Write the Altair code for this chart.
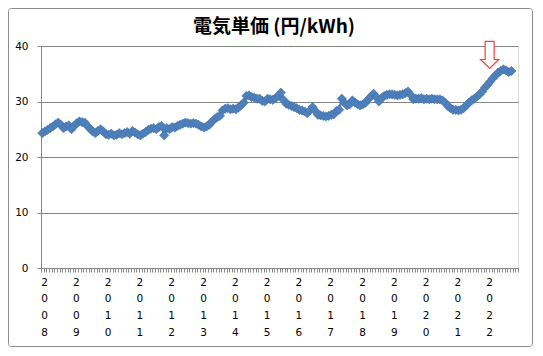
import altair as alt
import pandas as pd

# Monthly electricity unit price (yen/kWh), Jan 2008 onward
y2008 = [24.3, 24.6, 24.9, 25.2, 25.5, 25.9, 26.2, 25.8, 25.2, 25.5, 25.7, 25.0]
y2009 = [25.6, 26.1, 26.4, 26.3, 26.2, 25.6, 25.1, 24.6, 24.3, 24.7, 25.0, 24.6]
y2010 = [24.1, 24.0, 24.2, 23.9, 24.0, 24.3, 24.1, 24.3, 24.5, 24.2, 24.7, 24.4]
y2011 = [24.1, 23.9, 24.2, 24.5, 24.9, 25.1, 25.2, 25.0, 25.4, 25.6, 23.9, 25.2]
y2012 = [25.0, 25.4, 25.3, 25.6, 25.8, 26.0, 26.2, 26.1, 26.0, 26.1, 26.0, 25.8]
y2013 = [25.5, 25.3, 25.5, 25.8, 26.4, 26.8, 27.2, 27.4, 28.4, 28.7, 28.8, 28.6]
y2014 = [28.7, 28.6, 28.9, 29.3, 29.8, 31.0, 31.1, 30.8, 30.7, 30.5, 30.5, 30.1]
y2015 = [30.0, 30.5, 30.4, 30.3, 30.6, 31.0, 31.6, 30.3, 29.6, 29.4, 29.2, 29.0]
y2016 = [28.8, 28.5, 28.4, 28.2, 27.9, 28.4, 29.0, 28.3, 27.6, 27.5, 27.4, 27.3]
y2017 = [27.4, 27.6, 27.7, 28.3, 28.5, 30.5, 29.8, 29.3, 29.5, 30.2, 29.8, 29.5]
y2018 = [29.3, 29.5, 29.8, 30.4, 30.9, 31.4, 30.8, 30.0, 30.6, 31.0, 31.2, 31.3]
y2019 = [31.3, 31.2, 31.1, 31.2, 31.3, 31.5, 31.8, 31.2, 30.4, 30.5, 30.5, 30.6]
y2020 = [30.4, 30.5, 30.4, 30.5, 30.4, 30.4, 30.4, 30.2, 29.8, 29.2, 28.8, 28.5]
y2021 = [28.5, 28.4, 28.5, 28.8, 29.3, 29.8, 30.2, 30.5, 30.9, 31.3, 31.8, 32.5]
y2022 = [33.0, 33.6, 34.2, 34.7, 35.2, 35.5, 35.8, 35.6, 35.3, 35.5]

years = list(range(2008, 2023))
y_ticks = [0, 5, 10, 15, 20, 25, 30, 35, 40]
title_text = "電気単価 (円/kWh)"

# annotation arrow (month index, value)
arrow_month = [169.3]
arrow_value = [38.4]

series = (y2008 + y2009 + y2010 + y2011 + y2012 + y2013 + y2014 + y2015 +
          y2016 + y2017 + y2018 + y2019 + y2020 + y2021 + y2022)
n_cat = 12 * len(years)

df = pd.DataFrame({"m": [i + 0.5 for i in range(len(series))], "v": series})
df_arrow = pd.DataFrame({"m": arrow_month, "v": arrow_value})

blue = "#4F81BD"
grid = "#868686"

x_scale = alt.Scale(domain=[0, n_cat], nice=False, zero=False)
y_scale = alt.Scale(domain=[0, 40], nice=False)

x_axis = alt.Axis(
    values=list(range(0, n_cat + 1)),
    tickCount=n_cat + 1,
    title=None,
    grid=False,
    tickSize=4,
    tickColor=grid,
    domainColor=grid,
    labelExpr=f"datum.value % 12 == 0 && datum.value < {n_cat} ? split(toString(2008 + datum.value / 12), '') : ''",
    labelOverlap=False,
    labelBound=False,
    labelFlush=False,
    labelAlign="center",
    labelBaseline="top",
    labelOffset=3,
    labelPadding=5,
    labelLineHeight=16.7,
    labelFont="DejaVu Sans",
    labelFontSize=10.5,
    labelColor="black",
)
y_axis = alt.Axis(
    values=y_ticks,
    title=None,
    grid=True,
    gridColor=grid,
    gridWidth=1,
    tickSize=4,
    tickColor=grid,
    domainColor=grid,
    labelPadding=9,
    labelFont="DejaVu Sans",
    labelFontSize=10.5,
    labelColor="black",
)

base = alt.Chart(df)

line = base.mark_line(
    color=blue,
    strokeWidth=2.5,
    point=alt.OverlayMarkDef(shape="diamond", size=85, filled=True,
                             fill=blue, stroke="#3F6FA8", strokeWidth=0.6),
).encode(
    x=alt.X("m:Q", scale=x_scale, axis=x_axis),
    y=alt.Y("v:Q", scale=y_scale, axis=y_axis),
)

arrow_path = "M -0.33 -1 L 0.33 -1 L 0.33 0.34 L 0.667 0.34 L 0 1 L -0.667 0.34 L -0.33 0.34 Z"
arrow = alt.Chart(df_arrow).mark_point(
    shape=arrow_path, size=740, filled=True, fill="white", stroke="#FF3B3B",
    strokeWidth=1.2, opacity=1, clip=False,
).encode(
    x=alt.X("m:Q", scale=x_scale),
    y=alt.Y("v:Q", scale=y_scale),
)

border = alt.Chart(pd.DataFrame({"a": [0]})).mark_rect(
    fillOpacity=0, stroke="#8C8C8C", strokeWidth=1, cornerRadius=3, clip=False,
).encode(
    x=alt.value(-32.5), x2=alt.value(491.5),
    y=alt.value(-37.5), y2=alt.value(300.5),
)

title = alt.Chart(pd.DataFrame({"t": [title_text]})).mark_text(
    font="Noto Sans CJK JP", fontSize=19, fontWeight="bold", color="black",
    align="center", baseline="middle", clip=False,
).encode(
    text="t:N", x=alt.value(233), y=alt.value(-19),
)

chart = alt.layer(border, line, arrow, title).properties(
    width=477,
    height=222,
    autosize=alt.AutoSizeParams(type="none"),
    padding={"left": 33, "top": 38, "right": 16, "bottom": 79},
).configure_view(
    stroke=blue, strokeWidth=1,
).configure(background="white")

chart.save("out.html", embed_options={"renderer": "svg", "actions": False})
